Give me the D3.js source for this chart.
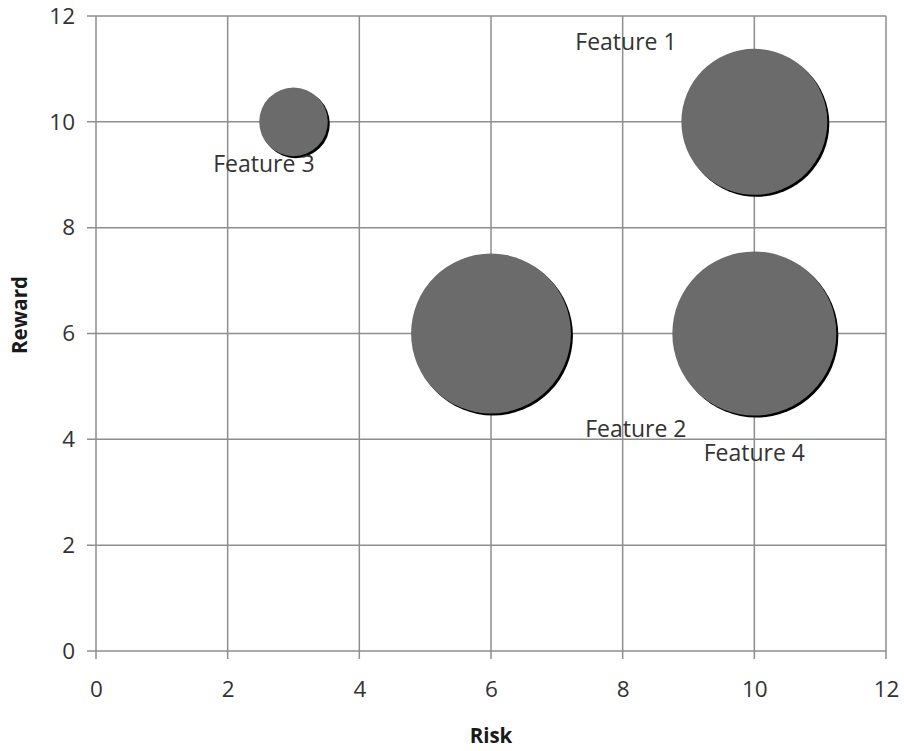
<!DOCTYPE html>
<html>
<head>
<meta charset="utf-8">
<script src="https://cdn.jsdelivr.net/npm/d3@7"></script>
<style>
  html, body { margin: 0; padding: 0; background: #fff; }
  svg { display: block; }
  text { font-family: "Open Sans", "DejaVu Sans", sans-serif; }
</style>
</head>
<body>
<svg id="chart" width="904" height="751"></svg>
<script>
// ---- data ----
const features = ["Feature 1", "Feature 2", "Feature 3", "Feature 4"];
const risk     = [10, 6, 3, 10];
const reward   = [10, 6, 10, 6];
const sizes    = [9.5, 11.4, 2.1, 12];
// label anchor points (data units)
const labelRisk   = [8.05, 8.2, 2.55, 10.0];
const labelReward = [11.36, 4.05, 9.05, 3.59];
const xTicks = [0, 2, 4, 6, 8, 10, 12];
const yTicks = [0, 2, 4, 6, 8, 10, 12];

// ---- layout ----
const svg = d3.select("#chart");
const plotL = 96, plotR = 886, plotT = 16, plotB = 651;

const x = d3.scaleLinear().domain([0, 12]).range([plotL, plotR]);
const y = d3.scaleLinear().domain([0, 12]).range([plotB, plotT]);
const r = d3.scaleSqrt().domain([0, 12]).range([0, 82]);

const gridColor = "#8e8e8e";

// gridlines
const grid = svg.append("g");
grid.selectAll("line.v").data(xTicks).join("line")
  .attr("x1", d => x(d)).attr("x2", d => x(d))
  .attr("y1", plotT).attr("y2", plotB + 8)
  .attr("stroke", gridColor).attr("stroke-width", 1.5);
grid.selectAll("line.h").data(yTicks).join("line")
  .attr("y1", d => y(d)).attr("y2", d => y(d))
  .attr("x1", plotL - 9).attr("x2", plotR)
  .attr("stroke", gridColor).attr("stroke-width", 1.5);

// axes labels via d3 axis (lines hidden, only text)
const xAxis = svg.append("g")
  .attr("transform", `translate(0,${plotB})`)
  .call(d3.axisBottom(x).tickValues(xTicks).tickSize(0).tickPadding(30));
const yAxis = svg.append("g")
  .attr("transform", `translate(${plotL},0)`)
  .call(d3.axisLeft(y).tickValues(yTicks).tickSize(0).tickPadding(21));
[xAxis, yAxis].forEach(a => {
  a.select(".domain").remove();
  a.selectAll("text")
    .attr("font-family", "Open Sans, DejaVu Sans, sans-serif")
    .attr("font-size", 22.5)
    .attr("fill", "#333");
});

// bubbles
const data = features.map((f, i) => ({
  name: f, x: risk[i], y: reward[i], s: sizes[i], lx: labelRisk[i], ly: labelReward[i]
}));

const defs = svg.append("defs");
defs.append("filter").attr("id", "blur")
  .append("feGaussianBlur").attr("stdDeviation", 0.5);

const bub = svg.append("g");
bub.selectAll("circle.shadow").data(data).join("circle")
  .attr("class", "shadow")
  .attr("cx", d => x(d.x) + 2).attr("cy", d => y(d.y) + 2)
  .attr("r", d => r(d.s))
  .attr("fill", "#000")
  .attr("filter", "url(#blur)");
bub.selectAll("circle.main").data(data).join("circle")
  .attr("class", "main")
  .attr("cx", d => x(d.x)).attr("cy", d => y(d.y))
  .attr("r", d => r(d.s))
  .attr("fill", "#6b6b6b");

// data labels
svg.append("g").selectAll("text").data(data).join("text")
  .attr("x", d => x(d.lx)).attr("y", d => y(d.ly))
  .attr("text-anchor", "middle")
  .attr("font-size", 23)
  .attr("fill", "#333")
  .text(d => d.name);

// axis titles
svg.append("text")
  .attr("x", 491).attr("y", 743)
  .attr("text-anchor", "middle")
  .attr("font-size", 20.5).attr("font-weight", "bold")
  .attr("fill", "#1a1a1a")
  .text("Risk");
svg.append("text")
  .attr("transform", "translate(27,315) rotate(-90)")
  .attr("text-anchor", "middle")
  .attr("font-size", 20.5).attr("font-weight", "bold")
  .attr("fill", "#1a1a1a")
  .text("Reward");
</script>
</body>
</html>
